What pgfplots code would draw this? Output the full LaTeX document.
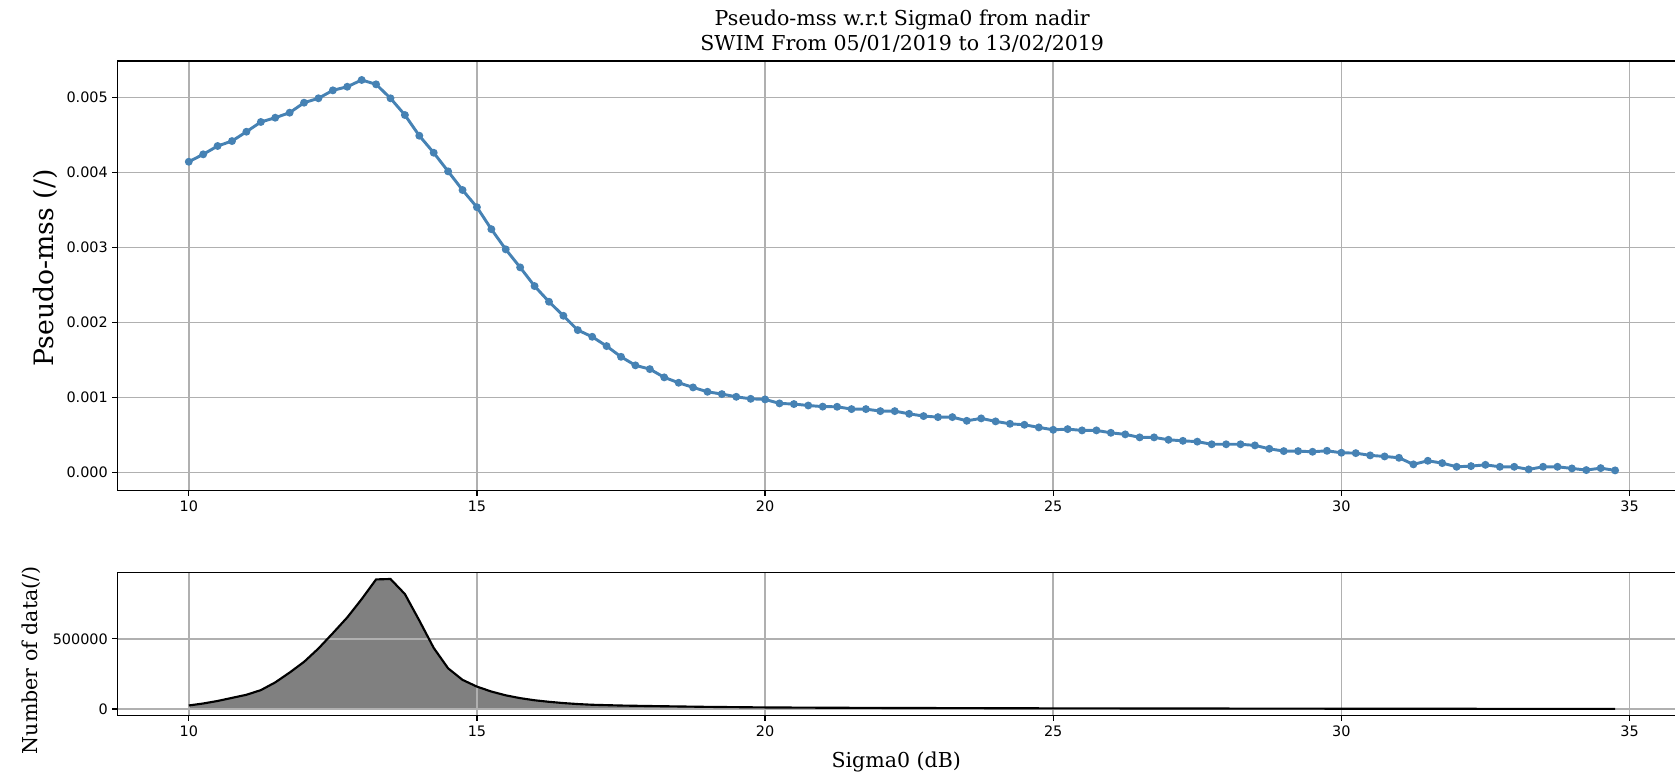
\documentclass[border=0pt]{standalone}
\usepackage{fontspec}
\setmainfont{DejaVu Serif}
\newfontfamily\ticksans{DejaVu Sans}
\usepackage{pgfplots}
\usepackage{pgfplotstable}
\pgfplotsset{compat=1.18}
\definecolor{steel}{HTML}{4682B4}
\definecolor{gridgray}{HTML}{B0B0B0}

% pseudo-mss per sigma0 bin
\pgfplotstableread{
x y
10.00 0.004141
10.25 0.004240
10.50 0.004351
10.75 0.004417
11.00 0.004541
11.25 0.004671
11.50 0.004728
11.75 0.004795
12.00 0.004928
12.25 0.004987
12.50 0.005093
12.75 0.005141
13.00 0.005231
13.25 0.005173
13.50 0.004987
13.75 0.004764
14.00 0.004488
14.25 0.004261
14.50 0.004013
14.75 0.003764
15.00 0.003535
15.25 0.003242
15.50 0.002973
15.75 0.002733
16.00 0.002484
16.25 0.002275
16.50 0.002088
16.75 0.001897
17.00 0.001808
17.25 0.001684
17.50 0.001541
17.75 0.001427
18.00 0.001377
18.25 0.001267
18.50 0.001195
18.75 0.001133
19.00 0.001075
19.25 0.001044
19.50 0.001008
19.75 0.000981
20.00 0.000973
20.25 0.000920
20.50 0.000911
20.75 0.000892
21.00 0.000877
21.25 0.000875
21.50 0.000844
21.75 0.000844
22.00 0.000817
22.25 0.000817
22.50 0.000781
22.75 0.000751
23.00 0.000737
23.25 0.000737
23.50 0.000688
23.75 0.000720
24.00 0.000680
24.25 0.000648
24.50 0.000635
24.75 0.000600
25.00 0.000568
25.25 0.000577
25.50 0.000560
25.75 0.000560
26.00 0.000528
26.25 0.000507
26.50 0.000467
26.75 0.000467
27.00 0.000435
27.25 0.000421
27.50 0.000410
27.75 0.000375
28.00 0.000375
28.25 0.000375
28.50 0.000360
28.75 0.000315
29.00 0.000284
29.25 0.000284
29.50 0.000275
29.75 0.000288
30.00 0.000262
30.25 0.000257
30.50 0.000227
30.75 0.000213
31.00 0.000195
31.25 0.000107
31.50 0.000155
31.75 0.000124
32.00 0.000075
32.25 0.000084
32.50 0.000101
32.75 0.000075
33.00 0.000075
33.25 0.000040
33.50 0.000075
33.75 0.000075
34.00 0.000053
34.25 0.000031
34.50 0.000057
34.75 0.000027
}\mssdata

% number of data per bin
\pgfplotstableread{
x n
10.00 26000
10.25 40000
10.50 58000
10.75 80000
11.00 102000
11.25 135000
11.50 190000
11.75 260000
12.00 336000
12.25 431000
12.50 540000
12.75 652000
13.00 782000
13.25 922000
13.50 925000
13.75 818000
14.00 630000
14.25 435000
14.50 290000
14.75 208000
15.00 160000
15.25 125000
15.50 98000
15.75 78000
16.00 63000
16.25 52000
16.50 43000
16.75 36000
17.00 31000
17.50 25500
18.00 22000
18.50 19000
19.00 16000
19.50 14000
20.00 12000
21.00 10000
22.00 8500
23.00 7500
24.00 6500
25.00 5500
26.00 5000
27.00 4500
28.00 4000
29.00 3500
30.00 3000
31.00 2600
32.00 2300
33.00 2000
34.00 1700
34.75 1500
}\countdata

\pgfplotsset{
  swim/.style={
    scale only axis, width=1168pt,
    xmin=8.7625, xmax=35.79,
    xtick={10,15,20,25,30,35},
    axis x line=box, axis y line*=left,
    xtick pos=left, ytick pos=left,
    tick align=outside, major tick length=3.75pt,
    grid=major, major grid style={gridgray, line width=1.1pt},
    axis line style={line width=1pt},
    every tick/.style={black, line width=1pt},
    tick label style={font=\fontsize{10.8}{13}\selectfont\ticksans},
    /pgf/number format/assume math mode=true,
    label style={font=\fontsize{15.4}{18.5}\selectfont},
  }
}

\begin{document}
\begin{tikzpicture}
\begin{axis}[swim, at={(0,0)}, anchor=south west, height=322.3pt,
  ymin=-0.000245, ymax=0.005484,
  ytick={0,0.001,0.002,0.003,0.004,0.005},
  scaled y ticks=false,
  yticklabel style={/pgf/number format/fixed, /pgf/number format/fixed zerofill, /pgf/number format/precision=3},
  ylabel={Pseudo-mss (/)},
  ylabel style={font=\fontsize{20}{24}\selectfont, xshift=6pt},
  title={Pseudo-mss w.r.t Sigma0 from nadir\\ SWIM From 05/01/2019 to 13/02/2019},
  title style={align=center, font=\fontsize{15.4}{18.5}\selectfont, xshift=4.5pt, yshift=-3pt},
]
\addplot[steel, line width=2.2pt, mark=*, mark size=1.8pt] table[x=x, y=y] {\mssdata};
\end{axis}

\begin{axis}[swim, at={(0,-61.5pt)}, anchor=north west, height=107.25pt,
  set layers,
  ymin=-47650, ymax=969000,
  ytick={0,500000},
  scaled y ticks=false,
  yticklabel style={/pgf/number format/fixed, /pgf/number format/1000 sep={}},
  ylabel={Number of data(/)},
  ylabel style={xshift=-12pt, yshift=2pt},
  xlabel={Sigma0 (dB)},
  xlabel style={yshift=-4.5pt},
]
\addplot[fill=gray, draw=none, on layer=axis background] table[x=x, y=n] {\countdata} \closedcycle;
\addplot[black, line width=1.6pt] table[x=x, y=n] {\countdata};
\end{axis}

\pgfresetboundingbox
\path[use as bounding box] (-88.1pt,-210.25pt) rectangle (1168pt,368.05pt);
\end{tikzpicture}
\end{document}
